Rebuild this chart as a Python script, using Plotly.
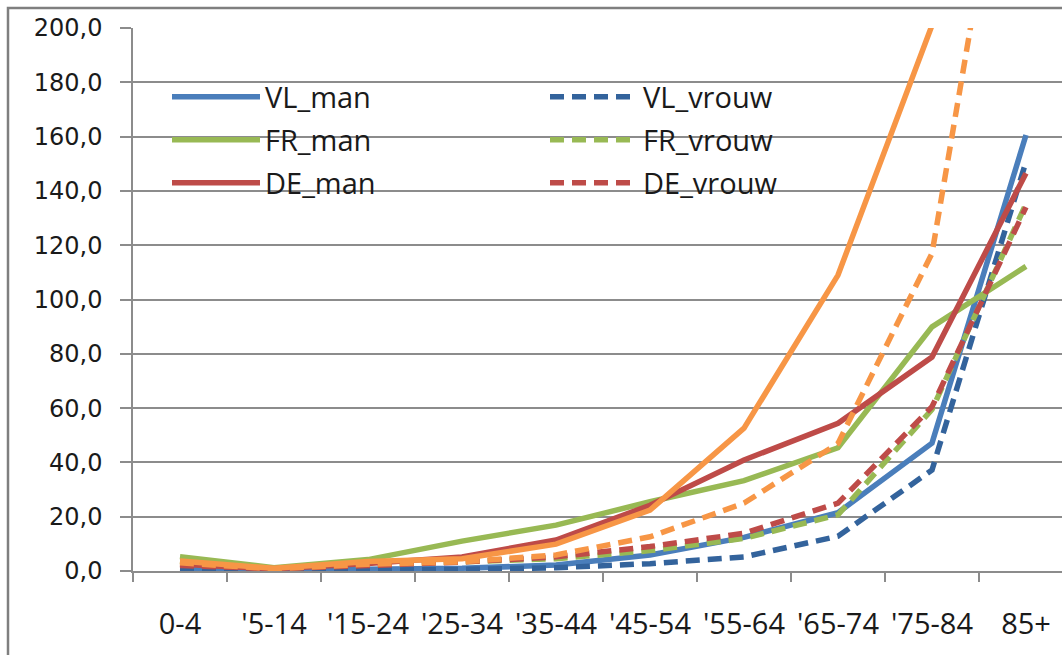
import plotly.graph_objects as go

# Age groups on the category axis
age_groups = ["0-4", "'5-14", "'15-24", "'25-34", "'35-44",
              "'45-54", "'55-64", "'65-74", "'75-84", "85+"]

# Rates per age group
vl_man = [1.0, 0.5, 0.6, 1.0, 2.2, 5.9, 12.4, 21.5, 47.1, 160.6]
vl_vrouw = [0.8, 0.3, 0.3, 0.6, 1.2, 2.7, 5.2, 12.8, 37.2, 150.8]
fr_man = [5.3, 1.2, 4.2, 11.0, 16.9, 25.5, 33.3, 45.4, 89.9, 112.2]
fr_vrouw = [3.5, 1.0, 2.3, 3.2, 4.5, 7.5, 12.0, 20.7, 59.5, 135.2]
de_man = [2.5, 0.8, 2.8, 5.2, 11.4, 24.2, 40.9, 54.4, 78.8, 146.5]
de_vrouw = [2.0, 0.8, 2.0, 3.3, 5.2, 9.0, 13.9, 25.0, 60.5, 134.0]
nl_man = [3.7, 1.0, 3.5, 4.5, 9.9, 22.4, 52.6, 109.0, 201.0, 380.0]
nl_vrouw = [3.0, 0.8, 2.5, 3.4, 5.9, 12.6, 25.0, 47.0, 117.0, 320.0]

BLUE = "#4A7EBB"
BLUE_DARK = "#33639C"
GREEN = "#98B954"
RED = "#BE4B48"
ORANGE = "#F79646"
DASH = "14px,8px"

W, H = 1062, 655
L, R, T, B = 133, 0, 28, 84
pw, ph = W - L - R, H - T - B


def px_x(p):
    return (p - L) / pw


def px_y(p):
    return 1 - (p - T) / ph


# legend slot: (column left edge px, row centre px)
series = [
    ("VL_man", vl_man, BLUE, "solid", (167, 97)),
    ("VL_vrouw", vl_vrouw, BLUE_DARK, DASH, (545, 97)),
    ("FR_man", fr_man, GREEN, "solid", (167, 140)),
    ("FR_vrouw", fr_vrouw, GREEN, DASH, (545, 140)),
    ("DE_man", de_man, RED, "solid", (167, 183)),
    ("DE_vrouw", de_vrouw, RED, DASH, (545, 183)),
    ("NL_man", nl_man, ORANGE, "solid", None),
    ("NL_vrouw", nl_vrouw, ORANGE, DASH, None),
]

legend_font = dict(family="Open Sans", size=29, color="#1a1a1a")
legends = {}
fig = go.Figure()
k = 0
for name, values, color, dash, slot in series:
    if slot is not None:
        k += 1
        key = "legend" if k == 1 else f"legend{k}"
        legends[key] = dict(
            x=px_x(slot[0]), xanchor="left",
            y=px_y(slot[1]), yanchor="middle",
            itemwidth=88, font=legend_font,
            bgcolor="rgba(0,0,0,0)", borderwidth=0,
            itemclick=False, itemdoubleclick=False,
        )
        leg, show = key, True
    else:
        leg, show = "legend", False
    fig.add_trace(go.Scatter(
        x=age_groups, y=values, name=name, mode="lines",
        line=dict(color=color, width=5.5, dash=dash),
        legend=leg, showlegend=show,
    ))

GRID = "#8C8C8C"

fig.update_layout(
    width=W, height=H, autosize=False,
    margin=dict(l=L, r=R, t=T, b=B, pad=0),
    paper_bgcolor="white", plot_bgcolor="white",
    separators=",.",
    xaxis=dict(
        type="category", range=[-0.5, 9.5 - 11 / 94],
        showgrid=False, showline=True, linecolor=GRID, linewidth=1.5,
        ticks="outside", tickson="boundaries", ticklen=9,
        tickcolor=GRID, tickwidth=1.5,
        ticklabelstandoff=26,
        tickfont=dict(family="Open Sans", size=29, color="#1a1a1a"),
    ),
    yaxis=dict(
        range=[0, 200], dtick=20, tick0=0, tickformat=".1f",
        showgrid=True, gridcolor=GRID, gridwidth=1.5, zeroline=False,
        showline=True, linecolor=GRID, linewidth=1.5,
        ticks="outside", ticklen=11, tickcolor=GRID, tickwidth=1.5,
        ticklabelstandoff=13,
        tickfont=dict(family="DejaVu Sans", size=24, color="#1a1a1a"),
    ),
    shapes=[dict(
        type="rect", xref="paper", yref="paper",
        x0=px_x(8), x1=px_x(1100), y0=px_y(8), y1=px_y(700),
        line=dict(color="#7F7F7F", width=2.5), fillcolor="rgba(0,0,0,0)",
        layer="below",
    )],
    **legends,
)

fig.write_html("out.html")
